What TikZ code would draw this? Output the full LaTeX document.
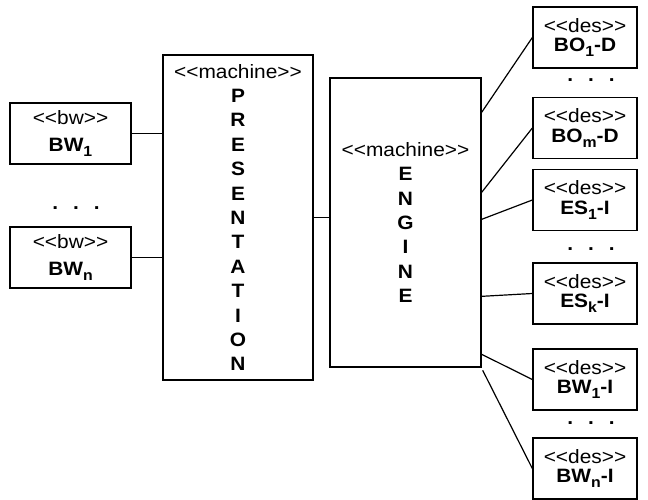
\documentclass[tikz,border=0pt]{standalone}
\usepackage{fontspec}
\setmainfont{Liberation Sans}[FakeStretch=1.08]
\usetikzlibrary{calc}
% lowered index as used in the component names
\newcommand{\idx}[1]{\raisebox{-3.6pt}{\fontsize{11}{11}\selectfont\bfseries #1}}
\begin{document}
\begin{tikzpicture}[x=0.75pt,y=-0.75pt,line width=1pt,
  every node/.style={font=\fontsize{14.5}{16}\selectfont},
  box/.style={draw,inner sep=0pt,align=center},
  bwbox/.style={box,minimum width=90.75pt,minimum height=45.75pt,
    font=\fontsize{14.5}{20.6}\selectfont},
  desbox/.style={box,minimum width=78pt,minimum height=45.75pt,
    font=\fontsize{14.5}{14.5}\selectfont},
  machbox/.style={box,font=\fontsize{14.5}{18.3}\selectfont},
  ellipsis/.style={anchor=base,inner sep=0pt,font=\fontsize{14.5}{16}\selectfont\bfseries},
  link/.style={line width=0.9pt}]
\useasboundingbox (0,0) rectangle (648,499);

% bw stations on the left
\node[bwbox] (bw1) at (70.5,133.5) {<{}<bw>{}>\\\textbf{BW\idx{1}}};
\node[bwbox] (bwn) at (70.5,257.5) {<{}<bw>{}>\\\textbf{BW\idx{n}}};
\node[ellipsis] (ldots) at (76,209) {.\hspace{11.2pt}.\hspace{11.2pt}.};

% the two machines
\node[machbox,minimum width=112.5pt,minimum height=243.75pt] (pres) at (238,217.5)
  {<{}<machine>{}>\\\textbf{P}\\\textbf{R}\\\textbf{E}\\\textbf{S}\\\textbf{E}\\\textbf{N}\\\textbf{T}\\\textbf{A}\\\textbf{T}\\\textbf{I}\\\textbf{O}\\\textbf{N}};
\node[machbox,minimum width=113.25pt,minimum height=216.75pt] (eng) at (405.5,222.5)
  {<{}<machine>{}>\\\textbf{E}\\\textbf{N}\\\textbf{G}\\\textbf{I}\\\textbf{N}\\\textbf{E}};

% des components on the right
\node[desbox] (bo1) at (585,37.5) {<{}<des>{}>\\\textbf{BO\idx{1}-D}};
\node[desbox] (bom) at (585,128) {<{}<des>{}>\\\textbf{BO\idx{m}-D}};
\node[desbox] (es1) at (585,200) {<{}<des>{}>\\\textbf{ES\idx{1}-I}};
\node[desbox] (esk) at (585,293.5) {<{}<des>{}>\\\textbf{ES\idx{k}-I}};
\node[desbox] (bw1i) at (585,379.5) {<{}<des>{}>\\\textbf{BW\idx{1}-I}};
\node[desbox] (bwni) at (585,468.5) {<{}<des>{}>\\\textbf{BW\idx{n}-I}};
\node[ellipsis] (rdots1) at (591,82) {.\hspace{11.2pt}.\hspace{11.2pt}.};
\node[ellipsis] (rdots2) at (591,250) {.\hspace{11.2pt}.\hspace{11.2pt}.};
\node[ellipsis] (rdots3) at (591,424) {.\hspace{11.2pt}.\hspace{11.2pt}.};

% attachment points along the engine's right side
\coordinate (e1) at ($(eng.north east)+(0,35)$);
\coordinate (e2) at ($(eng.north east)+(0,115)$);
\coordinate (e3) at ($(eng.north east)+(0,142)$);
\coordinate (e4) at ($(eng.north east)+(0,219)$);
\coordinate (e5) at ($(eng.north east)+(0,277)$);
\coordinate (e6) at ($(eng.north east)+(1,293)$);

% connectors
\draw[link] (bw1.east) -- (bw1.east -| pres.west);
\draw[link] (bwn.east) -- (bwn.east -| pres.west);
\draw[link] (pres.east) -- (pres.east -| eng.west);
\draw[link] (e1) -- (bo1.west);
\draw[link] (e2) -- (bom.west);
\draw[link] (e3) -- (es1.west);
\draw[link] (e4) -- (esk.west);
\draw[link] (e5) -- (bw1i.west);
\draw[link] (e6) -- (bwni.west);
\end{tikzpicture}
\end{document}
